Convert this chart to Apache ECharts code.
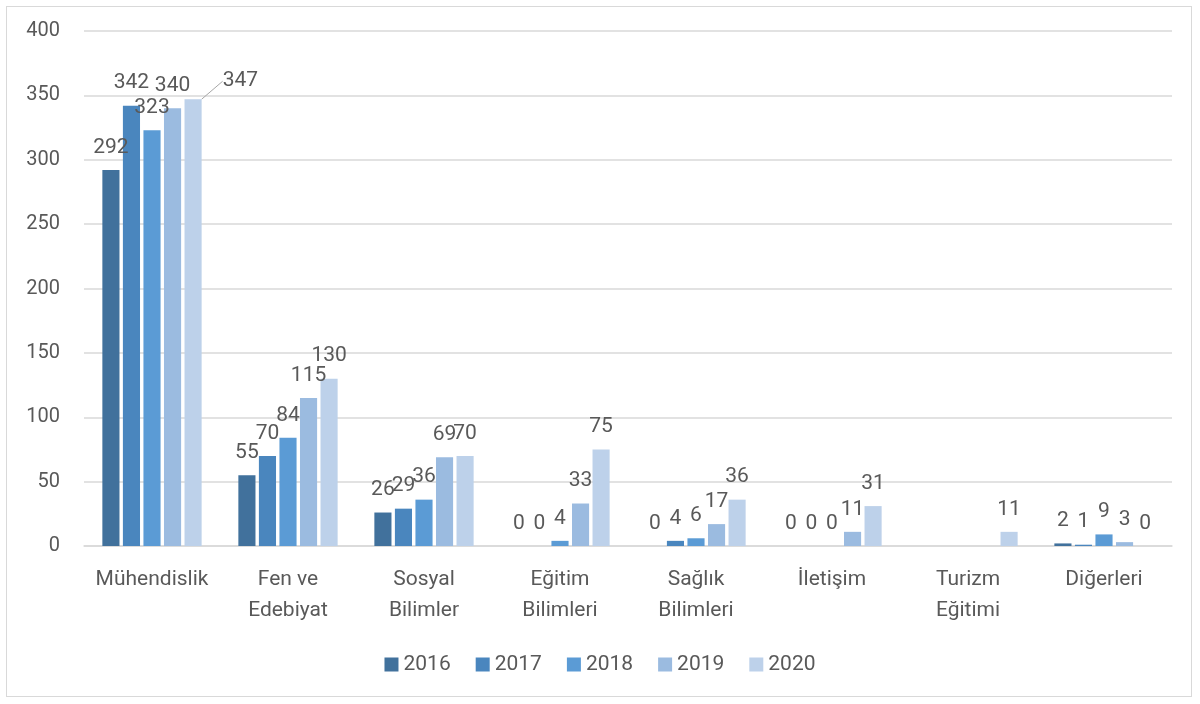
<!DOCTYPE html>
<html>
<head>
<meta charset="utf-8">
<script src="https://cdn.jsdelivr.net/npm/echarts@6/dist/echarts.min.js"></script>
<style>
  html, body { margin: 0; padding: 0; background: #fff; }
  #frame { position: absolute; left: 6px; top: 6px; width: 1186px; height: 691px; border: 1px solid #d9d9d9; box-sizing: border-box; }
  #main { width: 1200px; height: 704px; }
</style>
</head>
<body>
<div id="frame"></div>
<div id="main"></div>
<script>
const categories = ["Mühendislik", "Fen ve\nEdebiyat", "Sosyal\nBilimler", "Eğitim\nBilimleri", "Sağlık\nBilimleri", "İletişim", "Turizm\nEğitimi", "Diğerleri"]
const years = ["2016", "2017", "2018", "2019", "2020"]
const v2016 = [292, 55, 26, 0, 0, 0, null, 2]
const v2017 = [342, 70, 29, 0, 4, 0, null, 1]
const v2018 = [323, 84, 36, 4, 6, 0, null, 9]
const v2019 = [340, 115, 69, 33, 17, 11, null, 3]
const v2020 = [347, 130, 70, 75, 36, 31, 11, 0]
const colors = ["#41719c", "#4a86be", "#5b9bd5", "#9bbbe0", "#bdd1ea"]

const font = "Roboto"
const textColor = "#595959"

const allValues = [v2016, v2017, v2018, v2019, v2020]

// the 347 label sits to the right of its bar with a leader line
function moveFirstLabel(params) {
  if (params.dataIndex !== 0) return {}
  const r = params.rect
  const right = r.x + r.width
  const ly = r.y - 18
  return {
    x: right + 21,
    y: ly,
    align: "left",
    verticalAlign: "middle",
    labelLinePoints: [[r.x + r.width / 2, r.y], [right, ly], [right + 11, ly]],
  }
}

const series = years.map((y, i) => ({
  name: y,
  type: "bar",
  barGap: "20%",
  barCategoryGap: "27%",
  itemStyle: { color: colors[i] },
  label: {
    show: true,
    position: "top",
    distance: 12,
    color: textColor,
    fontFamily: font,
    fontSize: 21,
  },
  labelLayout: i === 4 ? moveFirstLabel : undefined,
  data: allValues[i].map((v, j) => {
    if (i === 4 && j === 0) {
      return {
        value: v,
        labelLine: { show: true, lineStyle: { color: "#a6a6a6", width: 1 } },
      }
    }
    return v
  }),
}))

const myChart = echarts.init(document.getElementById("main"))
myChart.setOption({
  animation: false,
  grid: { left: 84, right: 28, top: 31, bottom: 158 },
  legend: {
    bottom: 24,
    left: "center",
    itemWidth: 14,
    itemHeight: 14,
    itemGap: 25,
    icon: "rect",
    textStyle: { color: textColor, fontFamily: font, fontSize: 21 },
    data: years,
  },
  xAxis: {
    type: "category",
    data: categories,
    axisLine: { lineStyle: { color: "#d9d9d9", width: 1.5 } },
    axisTick: { show: false },
    axisLabel: {
      color: textColor,
      fontFamily: font,
      fontSize: 21,
      lineHeight: 31,
      margin: 18,
      interval: 0,
    },
  },
  yAxis: {
    type: "value",
    min: 0,
    max: 400,
    interval: 50,
    axisLine: { show: false },
    axisTick: { show: false },
    splitLine: { lineStyle: { color: "#d9d9d9", width: 1.5 } },
    axisLabel: { color: textColor, fontFamily: font, fontSize: 20, margin: 24 },
  },
  series: series,
})
</script>
</body>
</html>
